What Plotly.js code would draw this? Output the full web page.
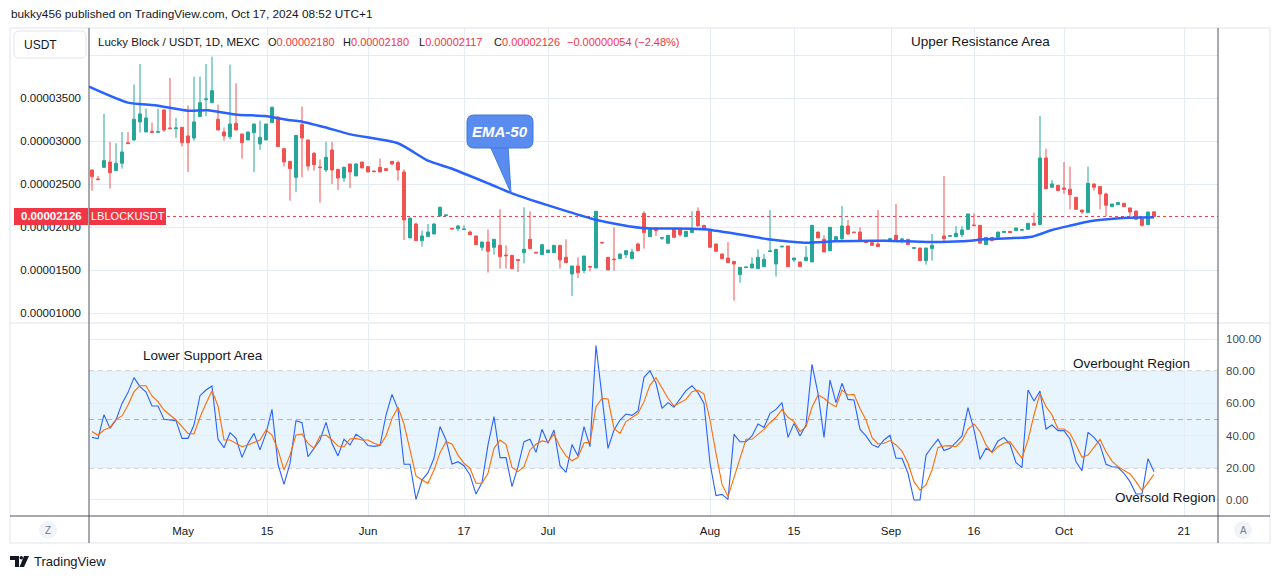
<!DOCTYPE html>
<html><head><meta charset="utf-8">
<script src="https://cdn.plot.ly/plotly-3.0.1.min.js"></script>
<style>html,body{margin:0;padding:0;background:#fff;}#chart{width:1281px;height:579px;}</style>
</head><body><div id="chart"></div>
<script>
// Prices are stored in units of 1e-6 USDT
const UNIT = 1e-6;
const openU = [26.66,25.62,26.97,27.59,26.59,27.44,29.84,30.15,32.25,31.08,
31.16,31.04,33.64,31.55,31.47,31.62,30.62,30.38,32.87,34.84,
34.49,32.56,31.08,30.54,32.09,30.85,30.15,31.00,29.69,30.15,
32.17,32.79,29.14,27.67,25.81,31.94,30.15,28.60,27.01,26.66,
28.99,26.74,25.73,27.36,25.97,27.59,27.05,26.55,26.97,26.82,
27.67,27.52,26.43,18.76,20.38,18.45,18.91,19.22,21.31,21.35,
19.88,19.84,19.73,19.45,18.99,17.67,18.29,17.67,17.90,16.78,
16.74,16.24,17.05,18.60,17.09,16.82,17.05,17.05,17.90,16.51,
14.57,15.50,14.96,15.46,15.27,18.25,16.51,16.31,16.35,16.82,
16.35,18.06,21.62,18.91,19.92,18.72,18.14,19.84,19.84,18.91,
19.38,21.86,20.23,19.61,18.06,16.90,16.43,16.04,14.49,15.31,
15.27,15.19,15.42,17.17,15.73,17.71,17.83,16.20,15.97,16.12,
15.97,19.45,18.60,17.28,18.37,18.68,20.15,19.45,19.45,18.45,
18.21,18.06,18.49,18.52,19.07,18.56,18.60,17.55,17.59,16.12,
17.52,18.25,18.99,18.95,18.91,19.14,19.76,20.27,20.23,17.98,
18.83,18.83,19.38,19.53,19.61,19.65,19.76,20.46,20.31,28.06,
24.65,24.88,24.57,24.42,23.49,22.01,21.70,25.04,24.73,23.87,
22.40,22.63,22.79,22.25,21.86,21.00,20.31,21.80];
const highU = [26.74,25.97,33.18,29.92,29.76,31.08,31.08,36.59,38.99,33.80,
32.17,33.80,33.72,37.36,32.71,31.62,34.18,37.52,37.52,38.99,
39.84,34.26,31.62,38.91,36.74,30.85,31.08,32.01,32.40,32.01,
34.03,32.94,29.14,27.67,30.69,34.03,30.15,28.76,27.90,29.92,
29.92,26.74,27.05,27.36,27.44,27.59,27.05,26.55,27.98,26.82,
27.67,27.75,26.74,21.08,20.54,19.61,20.38,20.46,22.40,21.43,
19.88,20.23,20.23,19.61,18.99,18.29,19.76,18.60,22.09,17.90,
16.74,16.24,22.32,21.86,17.09,17.98,17.36,17.90,17.90,18.60,
15.50,16.51,16.66,15.46,21.86,18.25,16.51,20.00,16.90,17.28,
17.52,18.21,21.86,19.84,19.92,18.80,19.07,19.84,19.84,19.53,
21.86,22.32,20.23,19.61,18.06,16.90,18.29,16.04,15.35,15.38,
16.51,17.44,16.90,22.01,17.44,17.79,17.83,16.43,15.97,17.83,
20.23,19.45,19.07,20.00,18.91,22.48,20.85,19.45,20.00,18.45,
18.21,22.01,18.49,18.68,22.71,18.68,18.60,17.63,17.59,17.59,
19.22,18.33,25.97,19.03,20.15,20.15,21.55,21.62,20.23,18.83,
18.83,19.45,19.53,19.53,19.92,19.73,20.46,21.70,32.94,29.14,
25.50,24.88,27.59,27.05,23.49,22.01,27.05,25.04,24.73,24.03,
22.71,22.87,22.79,22.25,22.01,21.00,21.78,21.80];
const lowU = [24.26,25.54,26.90,24.49,26.59,26.82,29.73,30.07,31.00,31.08,
31.04,31.04,31.08,31.47,30.38,29.38,26.43,30.07,32.87,32.94,
34.49,31.31,30.07,30.23,31.31,27.98,30.15,26.43,28.99,30.15,
32.17,29.38,27.05,23.10,24.11,25.81,26.59,26.59,22.87,26.43,
25.04,24.34,25.27,24.57,25.97,26.90,26.43,26.47,26.43,26.59,
27.21,25.42,18.52,18.76,18.45,17.75,18.91,19.22,21.31,21.35,
19.80,19.53,19.73,19.14,17.98,17.28,14.73,16.82,15.19,15.19,
15.19,14.80,15.81,17.52,17.01,16.82,17.05,17.05,15.19,15.89,
12.01,14.11,14.65,14.88,15.27,18.18,15.04,14.96,16.35,16.43,
16.35,17.28,17.52,18.91,18.99,18.52,18.14,18.83,18.91,18.91,
19.38,20.15,19.61,17.67,17.21,16.35,15.89,11.47,13.56,15.31,
15.27,15.19,15.42,17.17,14.26,17.71,15.42,15.97,15.42,16.12,
15.97,18.76,17.13,17.28,18.37,18.37,19.14,19.38,18.45,18.21,
17.90,17.75,18.41,18.52,18.52,18.14,17.98,17.55,16.12,15.66,
16.12,18.25,18.21,18.95,18.91,18.83,19.76,20.19,18.14,17.98,
18.37,18.83,19.38,19.38,19.61,19.65,19.76,20.23,20.23,24.49,
24.65,24.26,23.87,22.09,22.09,21.55,21.70,24.26,22.09,21.31,
22.40,22.63,22.40,21.31,20.93,20.07,20.31,21.17];
const closeU = [25.89,25.54,27.75,26.35,27.44,28.76,29.73,32.56,33.18,32.71,
31.04,31.12,31.31,31.47,31.55,29.84,29.84,32.25,34.49,34.92,
35.89,31.31,30.62,32.01,31.31,29.84,31.08,32.01,30.46,32.01,
33.95,29.38,27.59,26.82,30.69,30.38,27.13,27.28,26.94,28.14,
26.66,25.73,26.97,26.43,27.36,26.90,26.43,26.47,26.43,26.59,
27.36,26.66,20.85,21.08,18.45,18.99,19.45,20.38,22.32,21.43,
19.80,20.15,19.80,19.14,17.98,18.29,17.21,18.60,16.59,16.70,
15.19,16.16,17.44,17.52,17.01,17.98,17.36,17.90,16.20,15.89,
15.50,14.73,16.66,15.38,21.86,18.18,15.04,16.24,16.90,17.28,
17.13,17.28,19.38,19.84,19.61,18.80,19.07,18.83,19.14,19.53,
19.84,20.15,19.76,17.67,17.21,16.35,15.89,15.73,15.35,15.38,
15.73,16.51,16.28,17.25,17.44,17.79,15.42,16.43,15.42,16.51,
20.23,18.76,17.13,20.00,18.91,20.15,19.22,19.38,18.45,18.21,
17.90,17.75,18.41,18.68,18.52,18.64,17.98,17.63,16.12,17.59,
17.90,18.33,18.68,19.03,19.30,19.69,21.55,20.19,18.14,18.83,
18.45,19.45,19.53,19.38,19.92,19.73,20.46,20.23,28.06,24.49,
25.04,24.26,24.42,23.80,22.09,21.78,25.11,24.65,23.87,22.56,
22.71,22.87,22.40,21.78,20.93,20.23,21.78,21.26];

// EMA-50 read at sample bars
const emaBar = [-0.5,6,10.5,16,19.3,24.3,28.8,32.7,34.7,38.8,43.3,51,56,60,66.3,70,76.7,83.3,86.7,91.7,99.7,102.2,108.8,112.7,118.8,123.8,132.2,139.3,145,148.8,156.7,160,163.3,166.3,171.8,177];
const emaU = [36.35,34.49,34.19,33.56,33.6,33.09,32.94,32.48,32.33,31.63,30.77,29.77,27.74,26.81,25.03,23.95,22.40,21.00,20.47,19.92,19.84,19.77,19.07,18.60,18.21,18.37,18.44,18.29,18.37,18.60,18.91,19.69,20.23,20.70,21.08,21.16];

// Stochastic RSI
const stochK = [38.9,38.1,53.0,44.5,49.7,60.0,66.7,76.0,70.4,67.1,
58.4,58.4,50.1,49.7,49.3,38.3,38.3,46.6,64.8,68.3,
70.8,37.7,32.5,41.8,38.3,26.5,35.2,41.4,31.1,41.4,
56.3,22.2,9.7,22.8,49.3,48.0,26.9,32.1,37.3,48.2,
35.2,27.4,37.7,34.2,40.8,38.3,33.8,33.3,33.8,52.8,
65.6,56.3,22.2,22.2,0.4,12.4,17.0,25.9,45.6,37.3,
22.4,23.8,21.3,15.5,3.7,10.8,34.2,51.8,26.3,26.3,
8.3,20.7,36.2,37.7,29.6,43.9,35.2,43.5,21.3,17.2,
34.4,27.4,45.6,33.1,95.9,64.2,32.1,43.5,49.7,53.4,
52.6,55.3,76.2,80.3,72.5,56.9,60.5,57.6,62.7,67.9,
71.0,66.7,60.0,22.8,2.7,3.5,0.4,40.8,36.2,36.2,
39.8,47.2,45.1,53.8,56.3,60.5,38.9,47.6,39.8,46.6,
84.3,66.3,38.9,74.5,60.5,72.5,62.5,62.1,43.9,39.8,
34.4,32.7,37.3,40.2,25.9,25.9,16.6,0.0,0.0,27.9,
33.1,37.7,30.7,32.1,35.8,39.8,57.4,43.5,25.3,32.1,
30.0,36.7,38.9,34.6,23.2,20.1,68.3,61.5,67.7,44.1,
46.6,43.1,43.1,37.9,23.8,18.2,42.0,38.9,34.2,22.2,
20.7,20.3,16.6,11.4,3.7,3.7,25.7,17.6];
const stochD = [42.5,40.2,43.5,45.1,50.1,52.2,59.0,67.3,71.0,71.0,
64.6,61.1,55.9,52.8,49.7,45.6,41.4,41.0,51.4,60.0,
67.9,58.4,37.3,37.3,35.2,33.1,34.2,35.6,37.3,43.5,
40.4,31.1,18.6,27.9,40.4,41.0,35.2,32.1,39.8,40.4,
37.3,33.5,33.1,37.9,38.3,37.3,37.3,35.2,34.0,39.8,
50.7,57.6,47.2,31.1,14.9,12.4,10.4,18.6,29.4,36.2,
34.8,27.9,22.8,19.7,10.4,10.4,16.6,32.1,37.3,34.6,
20.3,17.6,20.7,31.1,34.6,36.7,36.0,41.0,33.1,27.4,
24.4,26.5,35.6,35.8,58.0,63.2,62.7,44.5,41.4,48.7,
51.4,53.8,61.1,71.4,76.0,69.4,63.2,58.4,60.5,62.5,
67.3,68.3,65.8,49.7,29.0,9.7,2.1,14.5,25.9,37.7,
37.7,41.0,43.9,48.0,51.4,56.3,51.4,48.7,42.5,45.6,
57.6,65.2,63.2,60.0,58.0,68.3,65.2,65.6,56.9,49.7,
38.9,34.8,35.2,36.9,34.2,30.4,22.8,11.4,6.2,9.3,
18.6,32.7,33.5,33.8,33.1,36.9,44.1,47.2,42.5,34.2,
29.4,33.1,35.2,36.2,31.1,25.9,37.3,52.8,66.3,58.0,
52.8,44.1,44.1,41.4,34.2,26.5,27.9,32.7,37.7,30.0,
24.2,20.7,18.6,16.2,11.4,5.8,10.8,16.0];

const dateTickBar = [15.17,29.17,46,62,76,103,117,133.17,147,162,182];
const dateTickText = ['May','15','Jun','17','Jul','Aug','15','Sep','16','Oct','21'];
const priceTicksU = [10,15,20,25,30,35,40];
const stochTicks = [0,20,40,60,80,100];
const lastPriceU = 21.26;

const bars = openU.map((_, i) => i);
const sc = a => a.map(v => v * UNIT);

// layout helpers (pixel -> paper)
const L0 = 89, PW = 1129, B0 = 516, PH = 488;
const px = x => (x - L0) / PW;
const py = y => (B0 - y) / PH;
function roundRect(x0, y0, x1, y1, r) {
  const P = (x, y) => px(x) + ',' + py(y);
  return 'M' + P(x0 + r, y0) + ' L' + P(x1 - r, y0) + ' Q' + P(x1, y0) + ' ' + P(x1, y0 + r) +
    ' L' + P(x1, y1 - r) + ' Q' + P(x1, y1) + ' ' + P(x1 - r, y1) +
    ' L' + P(x0 + r, y1) + ' Q' + P(x0, y1) + ' ' + P(x0, y1 - r) +
    ' L' + P(x0, y0 + r) + ' Q' + P(x0, y0) + ' ' + P(x0 + r, y0) + ' Z';
}
function pline(x0, y0, x1, y1, color, width, dash) {
  return {type: 'line', xref: 'paper', yref: 'paper', x0: px(x0), y0: py(y0), x1: px(x1), y1: py(y1),
    line: {color: color, width: width || 1, dash: dash || 'solid'}, layer: 'above'};
}
function prect(x0, y0, x1, y1, fill) {
  return {type: 'rect', xref: 'paper', yref: 'paper', x0: px(x0), y0: py(y0), x1: px(x1), y1: py(y1),
    fillcolor: fill, line: {width: 0}, layer: 'above'};
}
function txt(x, y, text, opts) {
  return Object.assign({xref: 'paper', yref: 'paper', x: px(x), y: py(y), text: text, showarrow: false,
    xanchor: 'left', yanchor: 'middle', font: {size: 11.5, color: '#131722'}}, opts || {});
}

const FONT = 'Liberation Sans, Arial, sans-serif';
const RED = '#F23645';

const traces = [
  {type: 'candlestick', x: bars, open: sc(openU), high: sc(highU), low: sc(lowU), close: sc(closeU),
    xaxis: 'x', yaxis: 'y', whiskerwidth: 0, hoverinfo: 'skip',
    increasing: {line: {color: '#26A69A', width: 1}, fillcolor: '#26A69A'},
    decreasing: {line: {color: '#EF5350', width: 1}, fillcolor: '#EF5350'}},
  {type: 'scatter', mode: 'lines', x: emaBar, y: sc(emaU), xaxis: 'x', yaxis: 'y',
    line: {color: '#2962FF', width: 2.5, shape: 'spline', smoothing: 0.6}, hoverinfo: 'skip'},
  {type: 'scatter', mode: 'lines', x: bars, y: stochK, xaxis: 'x', yaxis: 'y2',
    line: {color: '#2962FF', width: 1.1}, hoverinfo: 'skip'},
  {type: 'scatter', mode: 'lines', x: bars, y: stochD, xaxis: 'x', yaxis: 'y2',
    line: {color: '#FF6D00', width: 1.1}, hoverinfo: 'skip'}
];

const GRID = '#E6ECF3';
const shapes = [
  // stoch band and levels
  {type: 'rect', xref: 'paper', x0: 0, x1: 1, yref: 'y2', y0: 20, y1: 80, fillcolor: 'rgba(33,150,243,0.1)', line: {width: 0}, layer: 'below'},
  {type: 'line', xref: 'paper', x0: 0, x1: 1, yref: 'y2', y0: 80, y1: 80, line: {color: '#787B86', width: 1, dash: '5px,4px'}, layer: 'between'},
  {type: 'line', xref: 'paper', x0: 0, x1: 1, yref: 'y2', y0: 50, y1: 50, line: {color: 'rgba(120,123,134,0.55)', width: 1, dash: '5px,4px'}, layer: 'between'},
  {type: 'line', xref: 'paper', x0: 0, x1: 1, yref: 'y2', y0: 20, y1: 20, line: {color: '#787B86', width: 1, dash: '5px,4px'}, layer: 'between'},
  // last price line
  {type: 'line', xref: 'paper', x0: 0, x1: 1, yref: 'y', y0: lastPriceU * UNIT, y1: lastPriceU * UNIT, line: {color: RED, width: 1, dash: 'dot'}, layer: 'between'},
  // frame
  {type: 'rect', xref: 'paper', yref: 'paper', x0: px(10), x1: px(1270), y0: py(28), y1: py(543), line: {color: '#E0E3EB', width: 1}, layer: 'above'},
  pline(10, 323, 1270, 323, '#E0E3EB', 1),
  pline(10, 516, 1270, 516, '#50535E', 1),
  pline(89, 28, 89, 543, '#50535E', 1),
  pline(1218, 28, 1218, 543, '#50535E', 1),
  // USDT box
  {type: 'path', xref: 'paper', yref: 'paper', path: roundRect(14, 31, 86, 58, 5), line: {color: '#E0E3EB', width: 1}, fillcolor: '#FFFFFF', layer: 'above'},
  // last-price tags
  prect(14, 208, 88, 225, RED),
  prect(89, 208, 166, 225, RED),
  // Z / A buttons
  {type: 'circle', xref: 'paper', yref: 'paper', x0: px(39), x1: px(57), y0: py(521), y1: py(539), fillcolor: '#F0F3FA', line: {width: 0}, layer: 'above'},
  {type: 'circle', xref: 'paper', yref: 'paper', x0: px(1234), x1: px(1252), y0: py(521), y1: py(539), fillcolor: '#F0F3FA', line: {width: 0}, layer: 'above'},
  // EMA-50 callout
  {type: 'path', xref: 'paper', yref: 'paper', path: 'M' + px(490) + ',' + py(146) + ' L' + px(508) + ',' + py(146) + ' L' + px(511) + ',' + py(193) + ' Z',
    fillcolor: '#5A8CF0', line: {color: '#3F78E0', width: 1}, layer: 'above'},
  {type: 'path', xref: 'paper', yref: 'paper', path: roundRect(467, 115, 533, 148, 7), fillcolor: '#5A8CF0', line: {color: '#3F78E0', width: 1}, layer: 'above'},
  // TradingView logo mark
  {type: 'path', xref: 'paper', yref: 'paper', path: 'M' + px(10) + ',' + py(556) + ' L' + px(19) + ',' + py(556) + ' L' + px(19) + ',' + py(567) + ' L' + px(15) + ',' + py(567) + ' L' + px(15) + ',' + py(560) + ' L' + px(10) + ',' + py(560) + ' Z', fillcolor: '#131722', line: {width: 0}, layer: 'above'},
  {type: 'circle', xref: 'paper', yref: 'paper', x0: px(19.5), x1: px(23), y0: py(556), y1: py(559.5), fillcolor: '#131722', line: {width: 0}, layer: 'above'},
  {type: 'path', xref: 'paper', yref: 'paper', path: 'M' + px(24) + ',' + py(556) + ' L' + px(29) + ',' + py(556) + ' L' + px(24) + ',' + py(567) + ' L' + px(19.5) + ',' + py(567) + ' Z', fillcolor: '#131722', line: {width: 0}, layer: 'above'}
];

const priceTickText = priceTicksU.map(v => v >= 40 ? '' : (v * UNIT).toFixed(8));
const last = openU.length - 1;
const redSpan = s => '<span style="color:' + RED + '">' + s + '</span>';
const OHLC_FONT = {size: 11, color: '#131722'};
const ann = [
  txt(9, 14, 'bukky456 published on TradingView.com, Oct 17, 2024 08:52 UTC+1', {font: {size: 11.8, color: '#131722'}}),
  txt(22, 44.5, 'USDT', {font: {size: 12, color: '#131722'}}),
  txt(96, 42, 'Lucky Block / USDT, 1D, MEXC'),
  txt(266, 42, 'O' + redSpan((openU[last] * UNIT).toFixed(8)), {font: OHLC_FONT}),
  txt(341, 42, 'H' + redSpan((highU[last] * UNIT).toFixed(8)), {font: OHLC_FONT}),
  txt(417, 42, 'L' + redSpan((lowU[last] * UNIT).toFixed(8)), {font: OHLC_FONT}),
  txt(492, 42, 'C' + redSpan((closeU[last] * UNIT).toFixed(8)), {font: OHLC_FONT}),
  txt(565, 42, '\u22120.00000054 (\u22122.48%)', {font: {size: 11, color: RED}}),
  txt(909, 42, 'Upper Resistance Area', {font: {size: 13.5, color: '#131722'}}),
  txt(141, 355, 'Lower Support Area', {font: {size: 13.5, color: '#131722'}}),
  txt(1071, 363, 'Overbought Region', {font: {size: 13.5, color: '#131722'}}),
  txt(1113, 497, 'Oversold Region', {font: {size: 13.5, color: '#131722'}}),
  txt(500, 131, '<b><i>EMA-50</i></b>', {xanchor: 'center', font: {size: 15, color: '#FFFFFF'}}),
  // last price tag texts
  {xref: 'paper', yref: 'y', x: px(51), y: lastPriceU * UNIT, xanchor: 'center', yanchor: 'middle', showarrow: false,
    text: '<b>' + (lastPriceU * UNIT).toFixed(8) + '</b>', font: {size: 11.5, color: '#FFFFFF'}},
  {xref: 'paper', yref: 'y', x: px(127.5), y: lastPriceU * UNIT, xanchor: 'center', yanchor: 'middle', showarrow: false,
    text: 'LBLOCKUSDT', font: {size: 11, color: '#FFFFFF'}},
  txt(48, 530, 'Z', {xanchor: 'center', font: {size: 10, color: '#787B86'}}),
  txt(1243, 530, 'A', {xanchor: 'center', font: {size: 10, color: '#787B86'}}),
  txt(32, 561, 'TradingView', {font: {size: 13, color: '#131722'}})
];

const layout = {
  width: 1281, height: 579,
  margin: {l: 89, r: 63, t: 28, b: 63, pad: 0},
  paper_bgcolor: '#FFFFFF', plot_bgcolor: '#FFFFFF',
  font: {family: FONT, size: 12, color: '#131722'},
  showlegend: false,
  boxgap: 0.3,
  xaxis: {range: [-0.5, 187.667], anchor: 'y2', tickmode: 'array', tickvals: dateTickBar, ticktext: dateTickText,
    showgrid: true, gridcolor: GRID, gridwidth: 1, zeroline: false, showline: false, ticks: '',
    ticklabelstandoff: 6, tickfont: {size: 11.5, color: '#131722'}, rangeslider: {visible: false}, fixedrange: true},
  yaxis: {domain: [0.399, 1], range: [9.07 * UNIT, 43.17 * UNIT], side: 'left', tickmode: 'array',
    tickvals: sc(priceTicksU), ticktext: priceTickText, showgrid: true, gridcolor: GRID, zeroline: false,
    showline: false, ticks: '', ticklabelstandoff: 7, tickfont: {size: 11.5, color: '#131722'}, fixedrange: true},
  yaxis2: {domain: [0, 0.393], range: [-9.94, 109.2], side: 'right', anchor: 'x', tickmode: 'array',
    tickvals: stochTicks, ticktext: stochTicks.map(v => v.toFixed(2)), showgrid: true, gridcolor: GRID,
    zeroline: false, showline: false, ticks: '', ticklabelstandoff: 7, tickfont: {size: 11.5, color: '#434651'}, fixedrange: true},
  shapes: shapes,
  annotations: ann
};

Plotly.newPlot('chart', traces, layout, {displayModeBar: false, staticPlot: true});
</script>
</body></html>
